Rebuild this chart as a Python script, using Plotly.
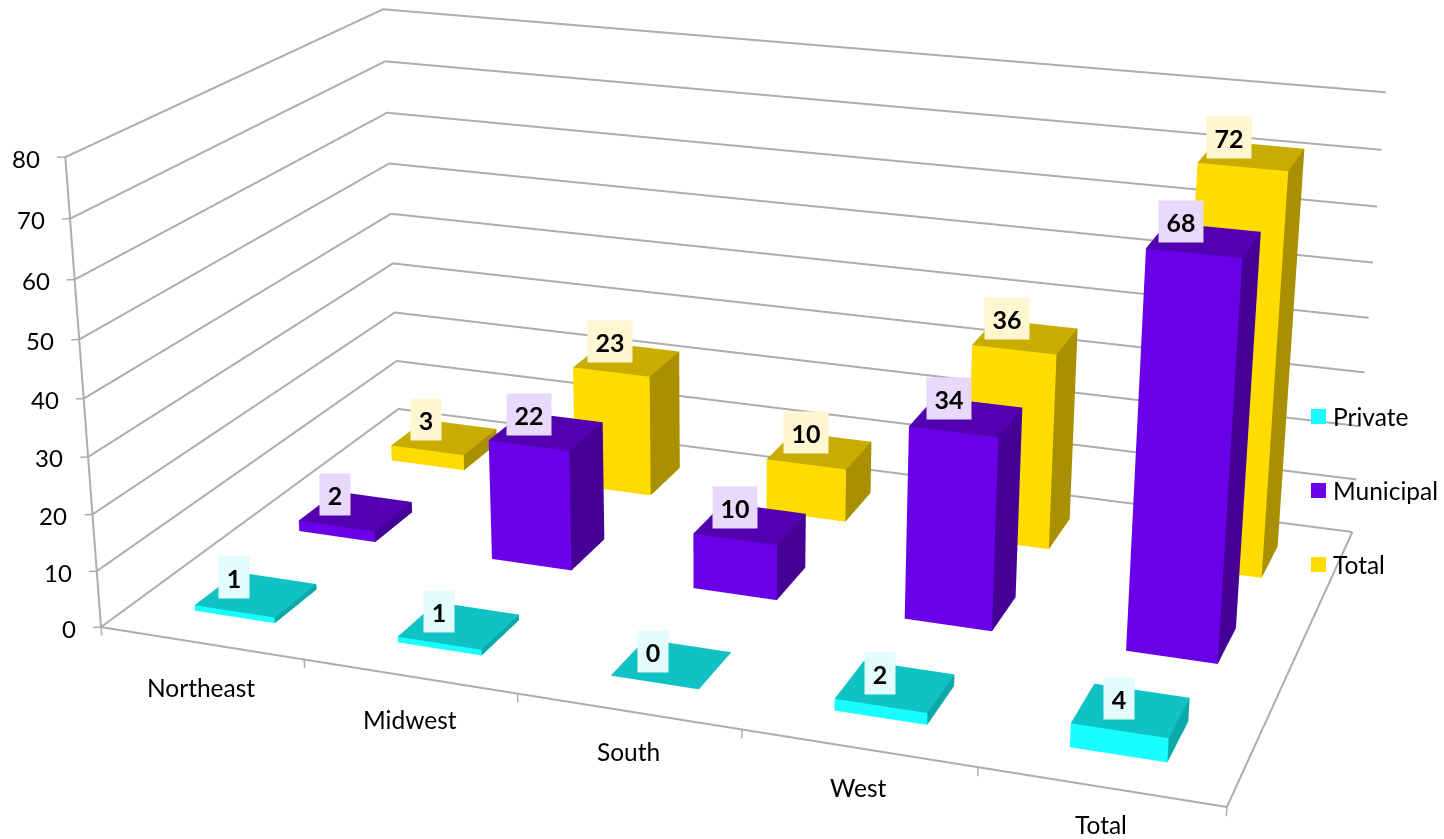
import plotly.graph_objects as go

categories = ["Northeast", "Midwest", "South", "West", "Total"]
private = [1, 1, 0, 2, 4]
municipal = [2, 22, 10, 34, 68]
total = [3, 23, 10, 36, 72]
series_names = ["Private", "Municipal", "Total"]
series_values = [private, municipal, total]
z_ticks = [0, 10, 20, 30, 40, 50, 60, 70, 80]

BAR = 0.2
FONT = "Lato"
LINE = "#ADADAD"
styles = [
    dict(front="#19FFFF", top="#10C2C4", side="#0CA9AB", tag="#E3FCFC", key="#19FFFF"),
    dict(front="#6A00E8", top="#5200B0", side="#450096", tag="#E8D9FC", key="#6A00E8"),
    dict(front="#FFDC00", top="#C9AC00", side="#A89000", tag="#FFF6D2", key="#FFDC00"),
]
# pixel nudges for text
cat_dy = [44, 43, 40, 39, 38]
tag_dx = [[-4, -2, -1, 3, 6], [-3, 1, 3, 1, -5], [0, 1, 5, 0, -4]]
tag_dy = [[3, 6, 8, 7, 8], [3, 3, 4, 2, 1], [2, 2, 2, 2, 2]]


def bars(vals, j, st):
    xs, ys, zs, i_, j_, k_, fc = [], [], [], [], [], [], []
    for c, v in enumerate(vals):
        n = len(xs)
        x0, x1 = c + 0.5 - BAR, c + 0.5 + BAR
        y0, y1 = j + 0.5 - BAR, j + 0.5 + BAR
        xs += [x0, x1, x1, x0, x0, x1, x1, x0]
        ys += [y0, y0, y1, y1, y0, y0, y1, y1]
        zs += [0, 0, 0, 0, v, v, v, v]
        faces = [((0, 1, 5), st["front"]), ((0, 5, 4), st["front"]),
                 ((1, 2, 6), st["side"]), ((1, 6, 5), st["side"]),
                 ((4, 5, 6), st["top"]), ((4, 6, 7), st["top"])]
        for (a, b, d), col in faces:
            i_.append(n + a); j_.append(n + b); k_.append(n + d); fc.append(col)
    return go.Mesh3d(x=xs, y=ys, z=zs, i=i_, j=j_, k=k_, facecolor=fc, flatshading=True,
                     lighting=dict(ambient=1, diffuse=0, specular=0, fresnel=0, roughness=1),
                     hoverinfo="skip", name=series_names[j], showscale=False)


fig = go.Figure()
for j, vals in enumerate(series_values):
    fig.add_trace(bars(vals, j, styles[j]))

n_cat, n_ser, z_max = len(categories), len(series_names), z_ticks[-1]


def line(xs, ys, zs, width):
    fig.add_trace(go.Scatter3d(x=xs, y=ys, z=zs, mode="lines", line=dict(color=LINE, width=width),
                               hoverinfo="skip", showlegend=False))


# gridlines running along the two walls at every value tick
for z in z_ticks:
    line([0, 0, n_cat], [0, n_ser, n_ser], [z, z, z], 4)
# left upright and front/right floor edges
line([0, 0, n_cat, n_cat], [0, 0, 0, n_ser], [z_max, 0, 0, 0], 4)
# tick marks: value ticks pointing left, category ticks pointing down
for z in z_ticks:
    line([0, -0.03], [0, -0.015], [z, z], 3)
for c in range(n_cat + 1):
    line([c, c], [0, 0], [0, -1.5], 3)

ann = []
for z in z_ticks:
    ann.append(dict(x=0, y=0, z=z, text=str(z), showarrow=False, xanchor="right", yanchor="middle",
                    xshift=-23, yshift=-1, font=dict(family=FONT, size=24, color="#000")))
for c, name in enumerate(categories):
    ann.append(dict(x=c + 0.5, y=0, z=0, text=name, showarrow=False, xanchor="center", yanchor="middle",
                    xshift=0, yshift=-cat_dy[c], font=dict(family=FONT, size=24.5, color="#000")))
for j, vals in enumerate(series_values):
    for c, v in enumerate(vals):
        ann.append(dict(x=c + 0.5, y=j + 0.5, z=v, text=f"<b>{v}</b>", showarrow=False,
                        xanchor="center", yanchor="middle", xshift=-18 + tag_dx[j][c], yshift=20 - tag_dy[j][c],
                        width=44 if v >= 10 else 30, height=41, bgcolor=styles[j]["tag"], borderpad=0,
                        font=dict(family=FONT, size=25, color="#000")))

# Axis ranges leave a small margin on both ends so lines on the box limits are not clipped;
# the camera is moved with the box (symmetric padding keeps the box centre, so it stays put).
aspect = (1, 0.6013, 0.4277)
full = (n_cat, n_ser, z_max)
pad = (0.05, 0.05, 2)
new_aspect = [a * (f + 2 * p) / f for a, f, p in zip(aspect, full, pad)]
eye = (0.8643, -2.4407, 0.8876)
ctr = (-0.0201, -0.0193, -0.0555)

axis_off = dict(showbackground=False, showspikes=False, showticklabels=False, title="", zeroline=False,
                showline=False, showgrid=False, ticks="")
fig.update_layout(
    width=1444, height=839, margin=dict(l=0, r=0, t=0, b=0), paper_bgcolor="white", showlegend=False,
    scene=dict(
        domain=dict(x=[0, 1], y=[0, 1]),
        aspectmode="manual", aspectratio=dict(x=new_aspect[0], y=new_aspect[1], z=new_aspect[2]),
        camera=dict(eye=dict(x=eye[0], y=eye[1], z=eye[2]), center=dict(x=ctr[0], y=ctr[1], z=ctr[2]),
                    up=dict(x=-0.0013, y=0, z=1), projection=dict(type="perspective")),
        xaxis=dict(range=[-pad[0], n_cat + pad[0]], **axis_off),
        yaxis=dict(range=[-pad[1], n_ser + pad[1]], **axis_off),
        zaxis=dict(range=[-pad[2], z_max + pad[2]], **axis_off),
        annotations=ann,
    ),
)
for j, name in enumerate(series_names):
    y_mid = 416.5 + 74 * j
    fig.add_shape(type="rect", xref="paper", yref="paper", x0=1311 / 1444, x1=1326 / 1444,
                  y0=1 - (y_mid + 7.5) / 839, y1=1 - (y_mid - 7.5) / 839,
                  fillcolor=styles[j]["key"], line_width=0)
    fig.add_annotation(xref="paper", yref="paper", x=1331 / 1444, y=1 - y_mid / 839, text=name, showarrow=False,
                       xanchor="left", yanchor="middle", font=dict(family=FONT, size=24.5, color="#000"))

post = """
document.body.style.margin='0';
var gd=document.getElementById('{plot_id}');
var s=gd._fullLayout.scene._scene;
s.glplot.fovy=0.2716;
s.glplot.redraw();
"""
fig.write_html("out.html", post_script=post, config=dict(displayModeBar=False))
